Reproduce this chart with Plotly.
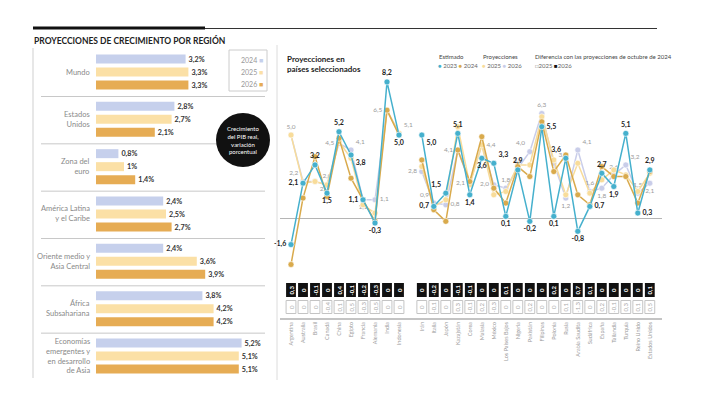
import plotly.graph_objects as go

W, H = 721, 393
OFF = 8  # page body margin
def PX(px): return (px - OFF) / W
def PY(py): return 1 - (py - OFF) / H

FONT = "Lato"

# ---------------- Left panel data ----------------
regions = ["Mundo", "Estados<br>Unidos", "Zona del<br>euro", "América Latina<br>y el Caribe",
           "Oriente medio y<br>Asia Central", "África<br>Subsahariana",
           "Economías<br>emergentes y<br>en desarrollo<br>de Asia"]
years_bar = ["2024", "2025", "2026"]
g2024 = [3.2, 2.8, 0.8, 2.4, 2.4, 3.8, 5.2]
g2025 = [3.3, 2.7, 1.0, 2.5, 3.6, 4.2, 5.1]
g2026 = [3.3, 2.1, 1.4, 2.7, 3.9, 4.2, 5.1]
bar_colors = ["#c6d0ec", "#fbe0a6", "#e6ac54"]

# ---------------- Right panel data ----------------
countries_a = ["Argentina", "Australia", "Brasil", "Canadá", "China", "Egipto", "Francia",
               "Alemania", "India", "Indonesia"]
countries_b = ["Irán", "Italia", "Japón", "Kazajstán", "Corea", "Malasia", "México",
               "Los Países Bajos", "Nigeria", "Pakistán", "Filipinas", "Polonia", "Rusia",
               "Arabia Saudita", "Sudáfrica", "España", "Tailandia", "Turquía", "Reino Unido",
               "Estados Unidos"]
c2023 = [-1.6, 2.1, 3.2, 1.5, 5.2, 3.8, 1.1, -0.3, 8.2, 5.0,
         5.0, 0.7, 1.5, 5.1, 1.4, 3.6, 3.3, 0.1, 2.9, -0.2, 5.5, 0.1, 3.6, -0.8, 0.7, 2.7, 1.9, 5.1, 0.3, 2.9]
c2024 = [-2.8, 1.2, 3.7, 1.3, 4.8, 2.4, 1.1, -0.2, 6.5, 5.0,
         3.5, 0.5, -0.2, 4.1, 2.2, 4.9, 1.8, 0.9, 3.1, 2.5, 5.8, 2.8, 3.8, 1.4, 0.8, 3.1, 2.5, 2.5, 0.9, 2.8]
c2025 = [5.0, 2.1, 2.2, 2.0, 4.6, 3.6, 0.8, 0.3, 6.5, 5.1,
         3.1, 0.7, 1.1, 5.5, 2.0, 4.4, 1.4, 1.6, 3.2, 3.2, 6.1, 3.5, 1.4, 3.3, 1.5, 2.3, 2.9, 2.6, 1.6, 2.7]
c2026 = [5.0, 2.2, 2.2, 2.0, 4.5, 4.1, 1.1, 1.1, 6.5, 5.1,
         2.8, 0.9, 0.8, 4.1, 2.1, 4.4, 2.0, 1.8, 3.0, 4.0, 6.3, 3.3, 1.2, 4.1, 1.6, 1.8, 2.6, 3.2, 1.5, 2.1]
pos2023 = ["middle left", "middle left", "top center", "bottom center", "top center", "bottom right",
           "middle left", "bottom center", "top center", "bottom center",
           "bottom right", "middle left", "top left", "top center", "bottom center", "bottom center",
           "top right", "bottom center", "top center", "bottom center", "middle right", "bottom center",
           "top left", "bottom center", "middle right", "top center", "bottom center", "top center",
           "middle right", "top center"]
pos2026 = ["top center", "top left", "bottom right", "top center", "middle left", "top right",
           "bottom center", "middle right", "middle left", "top right",
           "middle left", "top left", "middle right", "middle left", "middle left", "middle right",
           "middle left", "top center", "top center", "top left", "top center", "top right",
           "bottom center", "top right", "top center", "bottom center", "top center", "top right",
           "top center", "bottom center"]
diff2025 = [0, 0, 0, -0.4, 0.1, 0.5, -0.3, -0.5, 0, 0,
            0, -0.1, 0, 0.3, -0.1, 0.2, -0.3, 0, 0, 0.2, 0, 0, 0.1, -1.3, 0, 0.2, -0.1, 0.3, 0.1, 0.5]
diff2026 = [0.3, 0, -0.1, 0, 0.4, -0.1, -0.2, -0.3, 0, 0,
            0, -0.2, 0, -0.1, -0.1, 0, 0, 0.1, 0, 0, 0, 0.2, 0, 0.7, 0.1, 0, 0, 0, 0, 0.1]

def fmt(v, pct=False):
    s = ("%.1f" % v).replace(".", ",")
    if pct and s.endswith(",0"):
        s = s[:-2]
    return s + ("%" if pct else "")

def fmtd(v):
    if abs(v) < 1e-9:
        return "0"
    return ("%.1f" % v).replace(".", ",")

countries = countries_a + countries_b
xpos = list(range(len(countries_a))) + [10.9 + j for j in range(len(countries_b))]

def gap(seq, fill=None):
    n = len(countries_a)
    return list(seq[:n]) + [fill] + list(seq[n:])

xg = gap(xpos)

fig = go.Figure()

# ---------------- Bars ----------------
GS = 47.33
for k, (vals, col) in enumerate(zip([g2024, g2025, g2026], bar_colors)):
    fig.add_trace(go.Bar(
        x=vals, y=[g * GS + k * 13 for g in range(len(regions))], orientation="h",
        width=9, marker=dict(color=col, line=dict(width=0)),
        text=[fmt(v, pct=True) for v in vals], textposition="outside",
        textfont=dict(size=8, color="#333", family=FONT, weight="bold"),
        cliponaxis=False, xaxis="x", yaxis="y", showlegend=False, hoverinfo="skip"))

# ---------------- Lines ----------------
series = [("2026", c2026, "#c9cde9"), ("2025", c2025, "#f8dc9a"),
          ("2024", c2024, "#d9aa4c"), ("2023", c2023, "#45b0cd")]
for name, vals, col in series:
    if name == "2023":
        kw = dict(text=gap([fmt(v) for v in vals], ""), textposition=gap(pos2023, "top center"),
                  textfont=dict(size=7, color="#222", family=FONT, weight="bold"),
                  mode="lines+markers+text")
    elif name == "2026":
        kw = dict(text=gap([fmt(v) for v in vals], ""), textposition=gap(pos2026, "top center"),
                  textfont=dict(size=6.5, color="#9a9a9a", family=FONT),
                  mode="lines+markers+text")
    else:
        kw = dict(mode="lines+markers")
    fig.add_trace(go.Scatter(
        x=xg, y=gap(vals), line=dict(color=col, width=1.5),
        marker=dict(color=col, size=6, line=dict(color="white", width=0.6)),
        connectgaps=False, cliponaxis=False, xaxis="x2", yaxis="y2",
        showlegend=False, hoverinfo="skip", **kw))

# ---------------- Difference boxes ----------------
fig.add_trace(go.Bar(
    x=xpos, y=[14] * len(xpos), base=[21] * len(xpos), width=0.82,
    marker=dict(color="#111", line=dict(width=0)),
    text=[fmtd(v) for v in diff2026], textposition="inside", insidetextanchor="middle",
    textangle=-90, constraintext="none",
    textfont=dict(size=6, color="white", family=FONT, weight="bold"),
    xaxis="x3", yaxis="y3", showlegend=False, hoverinfo="skip"))
fig.add_trace(go.Bar(
    x=xpos, y=[13] * len(xpos), base=[4.5] * len(xpos), width=0.82,
    marker=dict(color="white", line=dict(color="#c4c4c4", width=1)),
    text=[fmtd(v) for v in diff2025], textposition="inside", insidetextanchor="middle",
    textangle=-90, constraintext="none",
    textfont=dict(size=6, color="#aaa", family=FONT),
    xaxis="x3", yaxis="y3", showlegend=False, hoverinfo="skip"))

xr = [-11 / 12.0, (662 - 291) / 12.0]
hidden = dict(showgrid=False, zeroline=False, showticklabels=False, ticks="", showline=False)

shapes = [
    dict(type="line", xref="paper", yref="paper", x0=PX(33), x1=PX(205), y0=PY(28), y1=PY(28),
         line=dict(color="#111", width=3)),
    dict(type="line", xref="paper", yref="paper", x0=PX(205), x1=PX(657), y0=PY(28.5), y1=PY(28.5),
         line=dict(color="#333", width=1)),
    dict(type="line", xref="paper", yref="paper", x0=PX(33), x1=PX(33), y0=PY(48), y1=PY(378),
         line=dict(color="#cfcfcf", width=1)),
    dict(type="line", xref="paper", yref="paper", x0=PX(277), x1=PX(277), y0=PY(45), y1=PY(380),
         line=dict(color="#dcdcdc", width=1)),
    dict(type="rect", xref="paper", yref="paper", x0=PX(229), x1=PX(267), y0=PY(91), y1=PY(50),
         line=dict(color="#cccccc", width=1)),
]
for g in range(len(regions) - 1):
    y = g * GS + 37.5
    shapes.append(dict(type="line", xref="paper", yref="y", x0=PX(41), x1=PX(265), y0=y, y1=y,
                       line=dict(color="#c8c8c8", width=1)))
shapes.append(dict(type="circle", xref="paper", yref="paper", x0=PX(216), x1=PX(270),
                   y0=PY(167), y1=PY(113), fillcolor="#111", line=dict(color="#111", width=0)))

annotations = [
    dict(text="<b>PROYECCIONES DE CRECIMIENTO POR REGIÓN</b>", x=PX(32), y=PY(40),
         xanchor="left", yanchor="middle", font=dict(size=8.5, color="#222")),
    dict(text="<b>Proyecciones en<br>países seleccionados</b>", x=PX(285), y=PY(52),
         xanchor="left", yanchor="top", align="left", font=dict(size=8, color="#222")),
    dict(text="Crecimiento<br>del PIB real,<br>variación<br>porcentual", x=PX(243), y=PY(140),
         xanchor="center", yanchor="middle", align="center", font=dict(size=6, color="white")),
    dict(text="Estimado", x=PX(437), y=PY(57), xanchor="left", yanchor="middle",
         font=dict(size=6, color="#444")),
    dict(text="<span style='color:#45b0cd'>●</span> 2023 <span style='color:#d9aa4c'>●</span> 2024",
         x=PX(436), y=PY(66), xanchor="left", yanchor="middle", font=dict(size=6, color="#666")),
    dict(text="Proyecciones", x=PX(481), y=PY(57), xanchor="left", yanchor="middle",
         font=dict(size=6, color="#444")),
    dict(text="<span style='color:#f8dc9a'>●</span> 2025 <span style='color:#c9cde9'>●</span> 2026",
         x=PX(480), y=PY(66), xanchor="left", yanchor="middle", font=dict(size=6, color="#666")),
    dict(text="Diferencia con las proyecciones de octubre de 2024", x=PX(533), y=PY(57),
         xanchor="left", yanchor="middle", font=dict(size=6, color="#444")),
    dict(text="<span style='color:#999'>□</span>2025 <span style='color:#111'>■</span>2026",
         x=PX(533), y=PY(66), xanchor="left", yanchor="middle", font=dict(size=6, color="#666")),
]
for i, (yr, col) in enumerate(zip(years_bar, bar_colors)):
    annotations.append(dict(text=f"{yr} <span style='color:{col}'>■</span>", x=PX(265), y=PY(60 + 12 * i),
                            xanchor="right", yanchor="middle", font=dict(size=7, color="#999")))
for g, name in enumerate(regions):
    annotations.append(dict(text=name, x=PX(92), xref="paper", y=g * GS + 13, yref="y",
                            xanchor="right", yanchor="middle", align="right",
                            font=dict(size=7.5, color="#8a8a8a")))
for a in annotations:
    a.setdefault("xref", "paper")
    a.setdefault("yref", "paper")
    a["showarrow"] = False

fig.update_layout(
    width=W, height=H, margin=dict(l=0, r=0, t=0, b=0),
    paper_bgcolor="white", plot_bgcolor="rgba(0,0,0,0)",
    font=dict(family=FONT, color="#333"), barmode="overlay",
    xaxis=dict(domain=[PX(96), PX(266)], range=[0, 170 / 28.0], anchor="y", **hidden),
    yaxis=dict(domain=[PY(377), PY(48)], range=[318, -11], anchor="x", **hidden),
    xaxis2=dict(domain=[PX(280), PX(662)], range=xr, anchor="y2", **hidden),
    yaxis2=dict(domain=[PY(265), PY(70)], range=[-2.83, 8.92], anchor="x2",
                showgrid=False, showticklabels=False, ticks="", showline=False,
                zeroline=True, zerolinecolor="#b5b5b5", zerolinewidth=1),
    xaxis3=dict(domain=[PX(280), PX(662)], range=xr, anchor="y3", showgrid=False, zeroline=False,
                showline=True, linecolor="#c4c4c4", linewidth=1.5, ticks="",
                tickvals=xpos, ticktext=countries, tickangle=-90,
                tickfont=dict(size=5.5, color="#9a9a9a")),
    yaxis3=dict(domain=[PY(318), PY(282)], range=[0, 36], anchor="x3", **hidden),
    shapes=shapes, annotations=annotations,
)

fig.write_html("out.html")
